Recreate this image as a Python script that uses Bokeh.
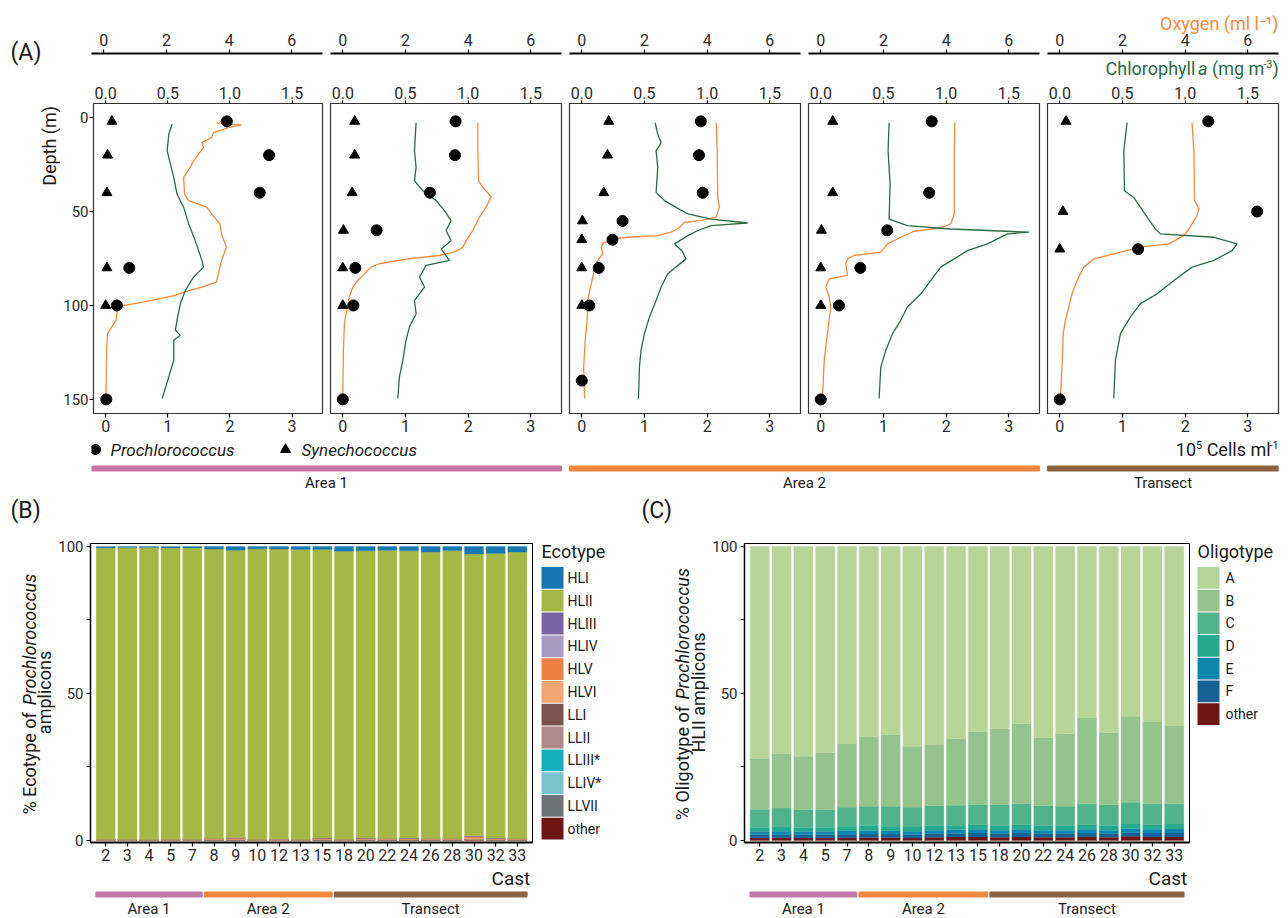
import math
from bokeh.plotting import figure
from bokeh.models import (Range1d, FixedTicker, Label, FactorRange, Title, LinearAxis,
                          PrintfTickFormatter, ColumnDataSource)
from bokeh.layouts import row, column
from bokeh.embed import file_html
from bokeh.resources import INLINE
from bokeh.core.properties import value

FONT = "Roboto"
NAN = float("nan")

# ---------------- Panel A data (depth profiles) ----------------
p1_samp_depth = [2, 20, 40, 80, 100, 150]
p1_pro = [1.95, 2.63, 2.48, 0.38, 0.18, 0.01]
p1_syn = [0.10, 0.03, 0.02, 0.02, 0.00, NAN]
p1_o2_depth = [2.8, 3.9, 5.3, 8.0, 10.6, 13.3, 15.9, 23.0, 26.5, 31.8, 40.7, 44.2, 45.1, 47.8, 51.3,
               56.6, 61.9, 69.0, 76.0, 83.1, 87.6, 90.2, 92.9, 94.6, 97.3, 100.5, 102.6, 107.9, 115.0,
               123.8, 150.0]
p1_o2 = [3.57, 4.37, 3.95, 3.47, 3.41, 3.10, 3.15, 2.83, 2.72, 2.51, 2.54, 2.67, 2.83, 3.26, 3.41,
         3.68, 3.73, 3.89, 3.73, 3.63, 3.57, 3.10, 2.51, 2.24, 1.50, 0.44, 0.38, 0.33, 0.06, 0.03, 0.01]
p1_chl_depth = [3.5, 8.8, 17.7, 24.8, 31.8, 40.7, 47.8, 56.6, 65.5, 76.0, 79.6, 84.9, 92.0, 99.0,
                107.9, 113.2, 115.9, 118.5, 129.0, 138.0, 149.5]
p1_chl = [0.535, 0.508, 0.495, 0.521, 0.548, 0.574, 0.628, 0.668, 0.721, 0.774, 0.787, 0.707, 0.641,
          0.601, 0.574, 0.561, 0.601, 0.548, 0.548, 0.508, 0.455]

p2_samp_depth = [2, 20, 40, 60, 80, 100, 150]
p2_pro = [1.80, 1.79, 1.39, 0.54, 0.20, 0.17, 0.00]
p2_syn = [0.19, 0.19, 0.15, 0.01, 0.00, 0.00, NAN]
p2_o2_depth = [2.7, 17.7, 33.6, 37.1, 42.1, 47.8, 53.0, 60.1, 65.5, 69.0, 71.6, 73.4, 75.2, 77.8,
               79.6, 82.3, 86.7, 90.2, 95.5, 104.4, 109.7, 123.8, 149.5]
p2_o2 = [4.31, 4.31, 4.33, 4.47, 4.73, 4.57, 4.36, 4.15, 3.94, 3.83, 3.56, 3.09, 2.07, 1.17, 0.90,
         0.74, 0.48, 0.32, 0.21, 0.11, 0.05, 0.02, 0.00]
p2_chl_depth = [2.7, 17.7, 26.5, 33.6, 38.9, 44.2, 49.5, 54.8, 60.1, 65.5, 69.9, 76.0, 78.7, 84.9,
                90.2, 97.3, 104.4, 111.4, 118.5, 129.1, 138.0, 149.5]
p2_chl = [0.585, 0.572, 0.585, 0.572, 0.638, 0.745, 0.811, 0.864, 0.824, 0.864, 0.785, 0.851, 0.665,
          0.612, 0.652, 0.572, 0.585, 0.532, 0.505, 0.479, 0.452, 0.439]

p3_samp_depth = [2, 20, 40, 55, 65, 80, 100, 140]
p3_pro = [1.90, 1.87, 1.93, 0.65, 0.49, 0.27, 0.12, 0.00]
p3_syn = [0.43, 0.41, 0.35, 0.01, 0.00, 0.00, 0.00, NAN]
p3_o2_depth = [2.7, 17.7, 42.5, 47.8, 53.0, 54.8, 55.7, 59.3, 61.0, 62.8, 63.7, 64.6, 66.9, 69.0,
               72.5, 76.0, 80.5, 84.9, 90.2, 97.3, 107.9, 118.5, 132.7, 149.5]
p3_o2 = [4.29, 4.32, 4.34, 4.39, 4.29, 3.81, 3.28, 3.06, 2.85, 2.43, 1.47, 0.99, 0.67, 0.62, 0.67,
         0.51, 0.40, 0.35, 0.28, 0.19, 0.17, 0.11, 0.06, 0.09]
p3_chl_depth = [2.7, 8.8, 13.3, 17.7, 26.5, 39.8, 44.2, 47.8, 51.3, 54.0, 56.1, 57.5, 60.1, 62.8,
                67.2, 71.0, 75.2, 83.1, 90.2, 97.3, 106.1, 115.0, 123.8, 132.7, 149.5]
p3_chl = [0.585, 0.606, 0.633, 0.593, 0.606, 0.593, 0.660, 0.753, 0.846, 1.032, 1.324, 1.032, 0.926,
          0.846, 0.739, 0.800, 0.832, 0.686, 0.633, 0.593, 0.540, 0.500, 0.473, 0.460, 0.452]

p4_samp_depth = [2, 40, 60, 80, 100, 150]
p4_pro = [1.77, 1.73, 1.06, 0.63, 0.29, 0.00]
p4_syn = [0.19, 0.19, 0.01, 0.00, 0.00, NAN]
p4_o2_depth = [2.7, 17.7, 51.3, 56.6, 58.7, 60.5, 63.7, 67.2, 71.6, 73.4, 75.2, 77.8, 84.0, 85.8,
               90.2, 95.5, 100.8, 115.0, 129.1, 149.5]
p4_o2 = [4.28, 4.26, 4.26, 4.15, 3.83, 2.98, 2.55, 2.13, 1.91, 1.06, 0.85, 0.80, 0.85, 0.27, 0.16,
         0.27, 0.32, 0.21, 0.11, 0.05]
p4_chl_depth = [2.7, 17.7, 35.4, 54.0, 57.5, 59.3, 61.0, 61.9, 67.2, 70.8, 75.2, 79.6, 86.7, 93.8,
                100.8, 107.9, 115.0, 123.8, 132.7, 149.5]
p4_chl = [0.545, 0.537, 0.553, 0.545, 0.691, 1.037, 1.662, 1.489, 1.330, 1.170, 1.064, 0.957, 0.878,
          0.798, 0.691, 0.638, 0.572, 0.519, 0.479, 0.465]

p5_samp_depth = [2, 50, 70, 150]
p5_pro = [2.37, 3.15, 1.25, 0.00]
p5_syn = [0.10, 0.05, 0.00, NAN]
p5_o2_depth = [2.7, 17.7, 44.2, 48.6, 52.2, 59.3, 62.8, 67.2, 69.0, 71.6, 75.2, 79.6, 86.7, 93.8,
               100.8, 107.9, 115.0, 132.7, 149.5]
p5_o2 = [4.22, 4.28, 4.30, 4.44, 4.38, 4.12, 3.96, 3.48, 2.57, 1.94, 1.09, 0.77, 0.55, 0.39, 0.29,
         0.18, 0.11, 0.07, 0.02]
p5_chl_depth = [2.7, 17.7, 38.9, 42.5, 47.8, 53.0, 59.3, 61.9, 63.7, 67.2, 70.8, 76.0, 79.6, 86.7,
                93.8, 99.0, 106.1, 115.0, 129.1, 149.5]
p5_chl = [0.537, 0.511, 0.516, 0.590, 0.644, 0.697, 0.763, 0.803, 1.229, 1.415, 1.375, 1.229, 1.056,
          0.910, 0.777, 0.644, 0.564, 0.484, 0.444, 0.431]

panel_area = ["Area 1", "Area 1", "Area 2", "Area 2", "Transect"]

# ---------------- Panels B / C data ----------------
casts = ["2", "3", "4", "5", "7", "8", "9", "10", "12", "13", "15", "18", "20", "22", "24", "26",
         "28", "30", "32", "33"]
cast_area = ["Area 1"] * 5 + ["Area 2"] * 6 + ["Transect"] * 9

eco_HLI = [0.5, 0.4, 0.4, 0.5, 0.5, 0.9, 1.3, 0.8, 0.9, 1.0, 1.0, 1.6, 1.5, 1.3, 1.5, 1.9, 1.4, 2.6, 2.4, 1.9]
eco_HLII = [99.2, 99.3, 99.4, 99.2, 99.2, 98.4, 97.8, 98.9, 98.7, 98.7, 98.2, 98.1, 97.7, 98.0, 97.7,
            97.4, 97.9, 95.8, 96.8, 97.4]
eco_HLIII = [0, 0, 0, 0, 0, 0, 0.1, 0, 0, 0, 0.1, 0, 0.1, 0, 0.1, 0, 0, 0.3, 0.1, 0]
eco_HLIV = [0] * 20
eco_HLV = [0.1, 0.1, 0.1, 0.1, 0.1, 0.3, 0.4, 0.1, 0.2, 0.1, 0.3, 0.1, 0.3, 0.3, 0.3, 0.3, 0.3, 0.5, 0.3, 0.3]
eco_HLVI = [0.1, 0.1, 0.0, 0.1, 0.1, 0.2, 0.2, 0.1, 0.1, 0.1, 0.2, 0.1, 0.2, 0.2, 0.2, 0.2, 0.2, 0.4, 0.2, 0.2]
eco_LLI = [0] * 20
eco_LLII = [0] * 20
eco_LLIII = [0] * 20
eco_LLIV = [0] * 20
eco_LLVII = [0] * 20
eco_other = [0.1, 0.1, 0.1, 0.1, 0.1, 0.2, 0.2, 0.1, 0.1, 0.1, 0.2, 0.1, 0.2, 0.2, 0.2, 0.2, 0.2, 0.4, 0.2, 0.2]

eco_names = ["HLI", "HLII", "HLIII", "HLIV", "HLV", "HLVI", "LLI", "LLII", "LLIII*", "LLIV*", "LLVII", "other"]
eco_colors = ["#1677b3", "#a5b744", "#7a64a3", "#aa9bc2", "#ee8046", "#f2a674", "#7e5450", "#b08a86",
              "#12b0bd", "#77c4ce", "#6e7579", "#6e1515"]

oli_A = [72.1, 70.4, 71.4, 70.1, 67.0, 64.6, 64.0, 68.0, 67.3, 65.3, 63.0, 62.0, 60.2, 65.0, 63.6,
         58.2, 63.3, 57.8, 59.5, 60.9]
oli_B = [17.3, 18.6, 18.1, 19.4, 21.7, 23.8, 24.4, 20.7, 20.9, 22.7, 24.8, 25.8, 27.2, 23.2, 24.8,
         29.3, 24.6, 29.2, 28.1, 26.6]
oli_C = [6.2, 6.4, 6.1, 6.1, 6.5, 6.6, 6.8, 6.7, 6.8, 6.8, 6.8, 7.2, 7.2, 6.8, 6.6, 7.1, 7.1, 7.4, 7.0, 6.9]
oli_D = [1.4, 1.5, 1.4, 1.4, 1.5, 1.6, 1.5, 1.5, 1.5, 1.6, 1.6, 1.5, 1.6, 1.5, 1.5, 1.6, 1.5, 1.6, 1.6, 1.7]
oli_E = [1.1, 1.1, 1.1, 1.1, 1.2, 1.2, 1.1, 1.1, 1.2, 1.2, 1.3, 1.2, 1.3, 1.2, 1.2, 1.3, 1.2, 1.3, 1.3, 1.4]
oli_F = [1.1, 1.1, 1.1, 1.1, 1.2, 1.2, 1.2, 1.2, 1.2, 1.2, 1.3, 1.2, 1.3, 1.2, 1.2, 1.3, 1.2, 1.3, 1.3, 1.3]
oli_other = [0.8, 0.9, 0.8, 0.8, 0.9, 1.0, 1.0, 0.8, 1.1, 1.2, 1.2, 1.1, 1.2, 1.1, 1.1, 1.2, 1.1, 1.4, 1.2, 1.2]

oli_names = ["A", "B", "C", "D", "E", "F", "other"]
oli_colors = ["#b7d597", "#95c38c", "#51b38b", "#25a98f", "#0d86ad", "#166194", "#6e1515"]

area_names = ["Area 1", "Area 2", "Transect"]
area_colors = ["#c476a8", "#f0873e", "#8c6442"]

O2_COLOR = "#f58a3b"
CHL_COLOR = "#2b6a45"
TXT = "#1a1a1a"

# ---------------- helpers ----------------
_CW = {}
for _c, _w in zip("ABCDEFGHIJKLMNOPQRSTUVWXYZ",
                  [652, 623, 651, 656, 568, 553, 681, 713, 272, 552, 627, 538, 873, 713, 688, 631,
                   688, 616, 594, 597, 648, 636, 887, 627, 601, 599]):
    _CW[_c] = _w
for _c, _w in zip("abcdefghijklmnopqrstuvwxyz",
                  [531, 547, 510, 550, 516, 340, 548, 538, 237, 233, 495, 237, 856, 539, 556, 547,
                   553, 331, 503, 319, 538, 473, 733, 484, 462, 484]):
    _CW[_c] = _w
_CW.update({" ": 248, "(": 334, ")": 340, "%": 714, "-": 270, ".": 257, "*": 420})
for _c in "0123456789":
    _CW[_c] = 561


def tw(s, size):
    return sum(_CW.get(c, 550) for c in s) / 1000.0 * size


def rich(p, pieces, x, y, align="left", vertical=False, color=TXT):
    """pieces: (text, size, style, rise). x, y: canvas px of the line's centre axis."""
    widths = [tw(t, s) for t, s, st, r in pieces]
    total = sum(widths)
    pos = {"left": 0.0, "center": -total / 2.0, "right": -total}[align]
    for (t, s, st, r), w in zip(pieces, widths):
        lead = len(t) - len(t.lstrip(" "))
        shown = t.strip(" ")
        q = pos + tw(" " * lead, s)
        if vertical:
            lx, ly, ang = x - r, y - q, math.pi / 2
        else:
            lx, ly, ang = x + q, y - r, 0.0
        p.add_layout(Label(x=lx, y=ly, x_units="canvas", y_units="canvas", text=shown, angle=ang,
                           text_font=FONT, text_font_size=f"{s}px", text_font_style=st,
                           text_color=color, text_align="left", text_baseline="middle"))
        pos += w


def style_axis(ax, size=16, tick=4, standoff=2):
    ax.major_label_text_font = FONT
    ax.major_label_text_font_size = f"{size}px"
    ax.major_label_text_color = "#2a2a2a"
    ax.major_tick_in = 0
    ax.major_tick_out = tick
    ax.major_tick_line_color = "black"
    ax.major_tick_line_width = 1.2
    ax.minor_tick_line_color = None
    ax.major_label_standoff = standoff


def base_fig(**kw):
    p = figure(toolbar_location=None, output_backend="svg", **kw)
    p.grid.visible = False
    p.background_fill_color = "white"
    p.border_fill_color = "white"
    return p


def blank_fig(w, h):
    f = base_fig(width=w, height=h, x_range=Range1d(0, w), y_range=Range1d(h, 0), min_border=0,
                 x_axis_location=None, y_axis_location=None)
    f.outline_line_color = None
    return f


# ---------------- Panel A ----------------
panels = [
    (p1_samp_depth, p1_pro, p1_syn, p1_o2_depth, p1_o2, p1_chl_depth, p1_chl),
    (p2_samp_depth, p2_pro, p2_syn, p2_o2_depth, p2_o2, p2_chl_depth, p2_chl),
    (p3_samp_depth, p3_pro, p3_syn, p3_o2_depth, p3_o2, p3_chl_depth, p3_chl),
    (p4_samp_depth, p4_pro, p4_syn, p4_o2_depth, p4_o2, p4_chl_depth, p4_chl),
    (p5_samp_depth, p5_pro, p5_syn, p5_o2_depth, p5_o2, p5_chl_depth, p5_chl),
]
CELL_RANGE = (-0.196, 3.49)
CHL_RANGE = (-0.098, 1.745)
O2_RANGE = (-0.392, 6.98)
geo = [(266, 31, 4), (239, 4, 4), (239, 4, 4), (239, 4, 4), (245, 4, 10)]  # width, left, right border
O2_H = 79
PAN_H = 359

leftA = blank_fig(60, O2_H + PAN_H)
rich(leftA, [("(A)", 23, "normal", 0)], 10, 52)
rich(leftA, [("Depth (m)", 18, "normal", 0)], 49, 107, align="right", vertical=True)

o2figs, figsA = [], []
for i, (sd, pro, syn, od, o2, cd, chl) in enumerate(panels):
    w, bl, br = geo[i]
    last = i == len(panels) - 1
    # oxygen axis strip
    f = base_fig(width=w, height=O2_H, x_range=Range1d(*O2_RANGE), y_range=Range1d(0, 1),
                 min_border_left=bl, min_border_right=br, min_border_top=53, min_border_bottom=0,
                 x_axis_location="above", y_axis_location=None)
    f.outline_line_color = None
    oa = f.xaxis[0]
    oa.ticker = FixedTicker(ticks=[0, 2, 4, 6])
    style_axis(oa, 16, 4, 4)
    oa.axis_line_color = "black"
    oa.axis_line_width = 1.8
    if last:
        t = Title(text="Oxygen (ml l\u207b\u00b9)", align="right", text_font=FONT,
                  text_font_size="18px", text_font_style="normal", text_color=O2_COLOR, offset=0)
        try:
            t.standoff = -6
        except Exception:
            t.standoff = 0
        f.title = t
        rich(f, [("Chlorophyll ", 18, "normal", 0), ("a", 18, "italic", 0), (" (mg m", 18, "normal", 0),
                 ("-3", 11, "normal", 5), (")", 18, "normal", 0)],
             235, 68, align="right", color=CHL_COLOR)
    o2figs.append(f)

    # profile panel
    p = base_fig(width=w, height=PAN_H, x_range=Range1d(*CELL_RANGE), y_range=Range1d(157.5, -7.5),
                 min_border_left=bl, min_border_right=br, min_border_top=24, min_border_bottom=25,
                 x_axis_location="below", y_axis_location="left" if i == 0 else None)
    p.extra_x_ranges = {"chl": Range1d(*CHL_RANGE), "o2": Range1d(*O2_RANGE)}
    p.outline_line_color = "#333333"
    p.outline_line_width = 1.2
    xa = p.xaxis[0]
    xa.ticker = FixedTicker(ticks=[0, 1, 2, 3])
    xa.axis_line_color = None
    style_axis(xa, 16, 4, 2)
    if i == 0:
        ya = p.yaxis[0]
        ya.ticker = FixedTicker(ticks=[0, 50, 100, 150])
        ya.axis_line_color = None
        style_axis(ya, 15, 4, 1)
    chl_ax = LinearAxis(x_range_name="chl", ticker=FixedTicker(ticks=[0, 0.5, 1.0, 1.5]),
                        formatter=PrintfTickFormatter(format="%.1f"), axis_line_color=None)
    style_axis(chl_ax, 16, 3, 2)
    p.add_layout(chl_ax, "above")

    p.line(x=o2, y=od, x_range_name="o2", line_color=O2_COLOR, line_width=1.3)
    p.line(x=chl, y=cd, x_range_name="chl", line_color=CHL_COLOR, line_width=1.3)
    p.scatter(x=syn, y=sd, marker="triangle", size=10, color="black")
    p.scatter(x=pro, y=sd, marker="circle", size=11, color="black")
    figsA.append(p)

# strip under panel A: legend + area bars
GAP = 8.0 / 239.0
SA_H = 57
sA = base_fig(width=1288, height=SA_H, x_range=Range1d(0.5 + GAP / 2, len(panels) + 0.5 - GAP / 2),
              y_range=Range1d(SA_H, 0), min_border_left=91, min_border_right=10, min_border_top=0,
              min_border_bottom=0, x_axis_location=None, y_axis_location=None)
sA.outline_line_color = None
sA.extra_x_ranges = {"px": Range1d(0, 1187)}
sA.scatter(x=[4], y=[11], x_range_name="px", marker="circle", size=10, color="black")
sA.scatter(x=[194], y=[11], x_range_name="px", marker="triangle", size=10, color="black")
rich(sA, [("Prochlorococcus", 17, "italic", 0)], 110, 11)
rich(sA, [("Synechococcus", 17, "italic", 0)], 301, 11)
rich(sA, [("10", 18, "normal", 0), ("5", 11, "normal", 5), (" Cells ml", 18, "normal", 0),
          ("-1", 11, "normal", 5)], 1278, 11, align="right")

a_left, a_right, a_mid = [], [], []
for nm in area_names:
    idx = [k + 1 for k, a in enumerate(panel_area) if a == nm]
    a_left.append(min(idx) - 0.5 + GAP / 2)
    a_right.append(max(idx) + 0.5 - GAP / 2)
    a_mid.append((min(idx) + max(idx)) / 2.0)
sA.hbar(y=30, height=5, left=a_left, right=a_right, color=area_colors)
sA.text(x=a_mid, y=[44.5] * 3, text=area_names, text_align="center", text_baseline="middle",
        text_font=value(FONT), text_font_size="15px", text_color=TXT)

blockA = column(row(leftA, column(row(*o2figs), row(*figsA))), sA)


# ---------------- Panels B and C ----------------
def stacked_panel(width, left_border, keys_bottom_up, vals_bottom_up, cols_bottom_up):
    p = base_fig(width=width, height=373,
                 x_range=FactorRange(factors=casts, range_padding=0.2, range_padding_units="absolute"),
                 y_range=Range1d(-0.7, 101.0), min_border_left=left_border, min_border_right=4,
                 min_border_top=48, min_border_bottom=26)
    data = {"cast": casts}
    for k, v in zip(keys_bottom_up, vals_bottom_up):
        data[k] = v
    src = ColumnDataSource(data)
    p.vbar_stack(stackers=keys_bottom_up, x="cast", width=0.88, source=src,
                 fill_color=cols_bottom_up, line_color=cols_bottom_up, line_width=0.3)
    p.outline_line_color = "black"
    p.outline_line_width = 1.0
    xa = p.xaxis[0]
    style_axis(xa, 16, 4, 2)
    xa.axis_line_color = "black"
    xa.axis_line_width = 2
    ya = p.yaxis[0]
    style_axis(ya, 15, 4, 3)
    ya.ticker = FixedTicker(ticks=[0, 50, 100], minor_ticks=[25, 75])
    ya.minor_tick_line_color = "black"
    ya.minor_tick_in = 0
    ya.minor_tick_out = 4
    ya.axis_line_color = "black"
    ya.axis_line_width = 1.5
    return p


def area_strip(width, left_border, x_range):
    s = base_fig(width=width, height=50, x_range=x_range, y_range=Range1d(50, 0),
                 min_border_left=left_border, min_border_right=4, min_border_top=0,
                 min_border_bottom=0, x_axis_location=None, y_axis_location=None)
    s.outline_line_color = None
    s.text(x=[(casts[-1], 0.6)], y=[10], text=["Cast"], text_align="right", text_baseline="middle",
           text_font=value(FONT), text_font_size="19px", text_color=TXT)
    lefts, rights, mids = [], [], []
    for nm in area_names:
        idx = [k for k, a in enumerate(cast_area) if a == nm]
        i0, i1 = min(idx), max(idx)
        lefts.append((casts[i0], -0.45))
        rights.append((casts[i1], 0.45))
        m = (i0 + i1) / 2.0
        mids.append((casts[int(math.floor(m))], m - math.floor(m)))
    s.hbar(y=26, height=5, left=lefts, right=rights, color=area_colors)
    s.text(x=mids, y=[40] * 3, text=area_names, text_align="center", text_baseline="middle",
           text_font=value(FONT), text_font_size="15px", text_color=TXT)
    return s


def legend_fig(width, title, names, colors, sw_x, lab_x, top0, pitch):
    lf = blank_fig(width, 423)
    ys = [top0 + pitch * (k + 0.5) for k in range(len(names))]
    lf.rect(x=[sw_x + 11] * len(names), y=ys, width=22, height=pitch - 1, fill_color=colors,
            line_color=None)
    lf.text(x=[lab_x] * len(names), y=ys, text=names, text_baseline="middle",
            text_font=value(FONT), text_font_size="14px", text_color=TXT)
    lf.text(x=[sw_x], y=[56], text=[title], text_baseline="middle", text_font=value(FONT),
            text_font_size="18px", text_color=TXT)
    return lf


eco_keys_bu = ["other", "LLVII", "LLIV", "LLIII", "LLII", "LLI", "HLVI", "HLV", "HLIV", "HLIII", "HLII", "HLI"]
eco_vals_bu = [eco_other, eco_LLVII, eco_LLIV, eco_LLIII, eco_LLII, eco_LLI, eco_HLVI, eco_HLV,
               eco_HLIV, eco_HLIII, eco_HLII, eco_HLI]
eco_cols_bu = list(reversed(eco_colors))

oli_keys_bu = ["other", "F", "E", "D", "C", "B", "A"]
oli_vals_bu = [oli_other, oli_F, oli_E, oli_D, oli_C, oli_B, oli_A]
oli_cols_bu = list(reversed(oli_colors))

leftB = blank_fig(55, 423)
rich(leftB, [("(B)", 23, "normal", 0)], 10, 15)
rich(leftB, [("% Ecotype of  ", 18, "normal", 0), ("Prochlorococcus", 18, "italic", 0)],
     29, 198, align="center", vertical=True)
rich(leftB, [("amplicons", 18, "normal", 0)], 44, 198, align="center", vertical=True)
pB = stacked_panel(481, 35, eco_keys_bu, eco_vals_bu, eco_cols_bu)
sB = area_strip(481, 35, pB.x_range)
legB = legend_fig(100, "Ecotype", eco_names, eco_colors, 5, 31, 71, 22.8)

leftC = blank_fig(73, 423)
rich(leftC, [("(C)", 23, "normal", 0)], 5, 15)
rich(leftC, [("% Oligotype of  ", 18, "normal", 0), ("Prochlorococcus", 18, "italic", 0)],
     46, 198, align="center", vertical=True)
rich(leftC, [("HLII amplicons", 18, "normal", 0)], 62, 198, align="center", vertical=True)
pC = stacked_panel(484, 33, oli_keys_bu, oli_vals_bu, oli_cols_bu)
sC = area_strip(484, 33, pC.x_range)
legC = legend_fig(95, "Oligotype", oli_names, oli_colors, 4, 32, 71, 22.7)

bottom = row(leftB, column(pB, sB), legB, leftC, column(pC, sC), legC)
root = column(blockA, bottom)

open("out.html", "w").write(file_html(root, INLINE))
